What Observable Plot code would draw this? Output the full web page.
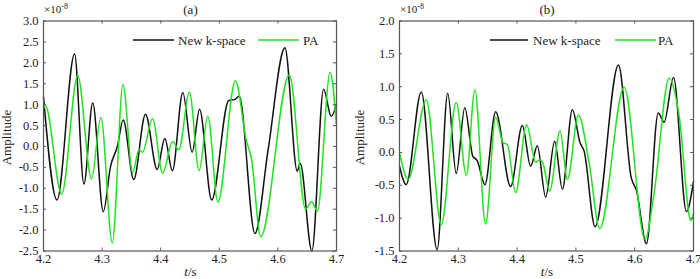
<!DOCTYPE html>
<html><head><meta charset="utf-8">
<script src="https://cdn.jsdelivr.net/npm/d3@7"></script>
<script src="https://cdn.jsdelivr.net/npm/@observablehq/plot@0.6"></script>
<style>
body{margin:0;background:#fff;}
#wrap{display:flex;width:700px;height:279px;}
#wrap svg text{font-family:"Liberation Serif","Times New Roman",Tinos,serif;}
</style></head><body><div id="wrap"></div>
<script>
// ---- data (amplitude in units of 1e-8) ----
const xTicks = [4.2, 4.3, 4.4, 4.5, 4.6, 4.7];
const aYTicks = [-2.5, -2.0, -1.5, -1.0, -0.5, 0.0, 0.5, 1.0, 1.5, 2.0, 2.5, 3.0];
const bYTicks = [-1.5, -1.0, -0.5, 0.0, 0.5, 1.0, 1.5, 2.0];
const seriesNames = ["New k-space", "PA"];

const aNewKTime = [4.200, 4.223, 4.253, 4.269, 4.284, 4.302, 4.3145, 4.326, 4.336, 4.354, 4.374, 4.394, 4.407, 4.420, 4.4377, 4.4537, 4.4663, 4.487, 4.516, 4.526, 4.534, 4.5608, 4.5834, 4.612, 4.633, 4.638, 4.658, 4.678, 4.691, 4.700];
const aNewKAmp  = [1.18, -1.28, 2.21, -0.90, 1.04, -1.56, -0.47, 0.00, 0.63, -0.79, 0.77, -0.55, 0.19, -0.58, 1.29, -0.14, 0.89, -1.28, 1.10, 1.12, 1.20, -2.08, -0.07, 2.36, -0.59, -0.40, -2.50, 1.37, 0.72, 1.00];

const aPATime = [4.200, 4.203, 4.231, 4.2584, 4.2819, 4.2979, 4.3174, 4.3357, 4.352, 4.3632, 4.3689, 4.3861, 4.4032, 4.4203, 4.431, 4.449, 4.4655, 4.4804, 4.4976, 4.5275, 4.546, 4.555, 4.5706, 4.6195, 4.6473, 4.6576, 4.6674, 4.6891, 4.700];
const aPAAmp  = [0.91, 0.99, -1.14, 1.69, -0.77, 0.69, -2.30, 1.48, -0.62, -0.07, -0.14, 0.66, -0.64, 0.12, -0.08, 1.30, -0.58, 0.72, -1.33, 1.57, 0.15, -0.30, -2.16, 1.71, -1.50, -1.32, -1.55, 1.77, 0.49];

const bNewKTime = [4.200, 4.2114, 4.237, 4.264, 4.282, 4.2965, 4.311, 4.3248, 4.332, 4.3453, 4.3635, 4.389, 4.4089, 4.423, 4.4344, 4.4486, 4.4639, 4.477, 4.494, 4.507, 4.514, 4.5326, 4.5724, 4.594, 4.603, 4.620, 4.640, 4.650, 4.666, 4.688, 4.700];
const bNewKAmp  = [-0.21, -0.49, 0.92, -1.48, 0.90, -0.32, 0.68, -0.06, -0.12, -0.49, 0.62, -0.52, 0.41, -0.21, 0.10, -0.68, 0.17, -0.56, 0.65, 0.15, 0.02, -1.13, 1.33, -0.38, -0.58, -1.39, 0.60, 0.46, 1.14, -0.90, -0.44];

const bPATime = [4.200, 4.2148, 4.2455, 4.271, 4.2965, 4.3136, 4.3282, 4.3464, 4.3635, 4.376, 4.3834, 4.3975, 4.4162, 4.4316, 4.438, 4.443, 4.4554, 4.473, 4.4856, 4.5043, 4.5225, 4.5405, 4.582, 4.6177, 4.633, 4.6586, 4.6756, 4.6955, 4.700];
const bPAAmp  = [0.00, -0.41, 0.80, -1.10, 0.76, -0.35, 0.95, -1.09, 0.53, 0.15, 0.12, -0.61, 0.42, -0.15, -0.11, -0.14, -0.59, 0.33, -0.41, 0.57, -0.16, -1.16, 0.99, -1.32, -0.62, 1.13, 0.56, -1.04, -0.93];

const colors = ["#111111", "#22e322"];
const fmt = d => d.toFixed(1);
const FONT = '"Liberation Serif", "Times New Roman", Tinos, serif';

function rows(t, v, s) { return t.map((x, i) => ({t: x, v: v[i], s})); }

function panel({title, yTicks, yDomain, kT, kV, pT, pV, mL, mR, ampX, legendX}) {
  const W = 350, H = 279, mT = 20.5, mB = 28.5;
  const iw = W - mL - mR, ih = H - mT - mB;
  const frameColor = "#555";
  const data = rows(kT, kV, seriesNames[0]).concat(rows(pT, pV, seriesNames[1]));
  const svg = Plot.plot({
    width: W, height: H, marginLeft: mL, marginRight: mR, marginTop: mT, marginBottom: mB,
    style: {fontFamily: FONT, fontSize: "12.5px", background: "white", color: "#222"},
    x: {domain: [4.2, 4.7], label: null},
    y: {domain: yDomain, label: null},
    color: {domain: seriesNames, range: colors},
    marks: [
      Plot.line(data, {x: "t", y: "v", z: "s", stroke: "s", strokeWidth: 1.5, curve: "monotone-x"}),
      Plot.ruleY(yTicks, {stroke: frameColor, insetRight: iw - 3}),
      Plot.ruleY(yTicks, {stroke: frameColor, insetLeft: iw - 3}),
      Plot.ruleX(xTicks, {stroke: frameColor, insetBottom: ih - 3}),
      Plot.ruleX(xTicks, {stroke: frameColor, insetTop: ih - 3}),
      Plot.frame({stroke: frameColor, strokeWidth: 1.2}),
      Plot.axisY({ticks: yTicks, tickSize: 0, tickPadding: 5, tickFormat: fmt, label: null}),
      Plot.axisX({ticks: xTicks, tickSize: 0, tickPadding: 3, tickFormat: fmt, label: null})
    ]
  });
  const s = d3.select(svg);
  s.attr("font-family", FONT);
  s.selectAll("g").attr("font-family", null);
  const g = s.append("g").attr("fill", "#222").attr("text-anchor", "start");
  g.append("text").attr("x", mL + iw / 2 + 1).attr("y", 14).attr("text-anchor", "middle")
    .attr("font-size", 13).text(title);
  const ex = g.append("text").attr("x", mL + 1).attr("y", 13).attr("font-size", 11).attr("text-anchor", "start");
  ex.append("tspan").text("×10");
  ex.append("tspan").attr("dy", -4).attr("font-size", 8).text("-8");
  g.append("text").attr("transform", `translate(${ampX},${mT + ih / 2 + 2}) rotate(-90)`)
    .attr("text-anchor", "middle").attr("font-size", 13).text("Amplitude");
  const xl = g.append("text").attr("x", mL + iw / 2 + 1).attr("y", 276).attr("text-anchor", "middle").attr("font-size", 13);
  xl.append("tspan").attr("font-style", "italic").text("t");
  xl.append("tspan").text("/s");
  // legend
  const ly = 40;
  const [x0, x1, tx, gx0, gx1, gtx] = legendX;
  g.append("line").attr("x1", x0).attr("x2", x1).attr("y1", ly).attr("y2", ly).attr("stroke", colors[0]).attr("stroke-width", 1.6);
  g.append("text").attr("x", tx).attr("y", ly + 4.5).attr("font-size", 13).attr("text-anchor", "start").text(seriesNames[0]);
  g.append("line").attr("x1", gx0).attr("x2", gx1).attr("y1", ly).attr("y2", ly).attr("stroke", colors[1]).attr("stroke-width", 1.6);
  g.append("text").attr("x", gtx).attr("y", ly + 4.5).attr("font-size", 13).attr("text-anchor", "start").text(seriesNames[1]);
  return svg;
}

const wrap = document.getElementById("wrap");
wrap.appendChild(panel({title: "(a)", yTicks: aYTicks, yDomain: [-2.5, 3.0], kT: aNewKTime, kV: aNewKAmp, pT: aPATime, pV: aPAAmp,
  mL: 43, mR: 14, ampX: 11, legendX: [133, 174, 178, 258, 299, 303]}));
wrap.appendChild(panel({title: "(b)", yTicks: bYTicks, yDomain: [-1.5, 2.0], kT: bNewKTime, kV: bNewKAmp, pT: bPATime, pV: bPAAmp,
  mL: 49, mR: 7, ampX: 14, legendX: [140, 178, 183, 265, 306, 308]}));
</script></body></html>
